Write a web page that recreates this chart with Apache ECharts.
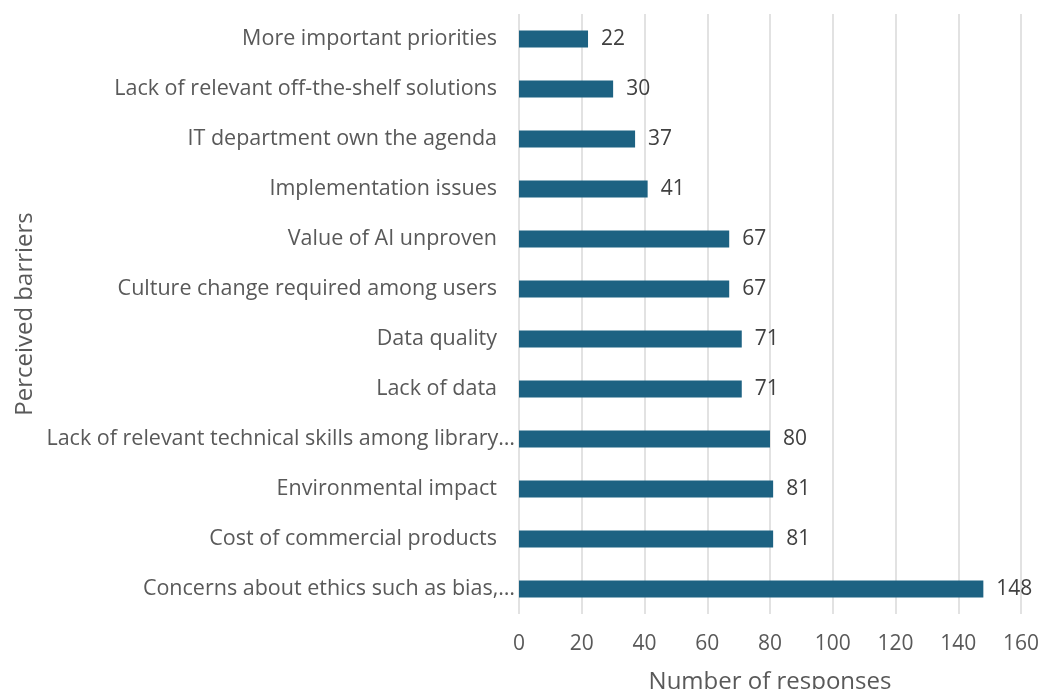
<!DOCTYPE html>
<html><head><meta charset="utf-8">
<script src="https://cdn.jsdelivr.net/npm/echarts@6/dist/echarts.min.js"></script>
<style>html,body{margin:0;padding:0;background:#fff}#c{width:1040px;height:689px}</style>
</head><body><div id="c"></div>
<script>
const categories = [
  "Concerns about ethics such as bias,…",
  "Cost of commercial products",
  "Environmental impact",
  "Lack of relevant technical skills among library…",
  "Lack of data",
  "Data quality",
  "Culture change required among users",
  "Value of AI unproven",
  "Implementation issues",
  "IT department own the agenda",
  "Lack of relevant off-the-shelf solutions",
  "More important priorities"
];
const values = [148, 81, 81, 80, 71, 71, 67, 67, 41, 37, 30, 22];
const truncated = [true, false, false, true, false, false, false, false, false, false, false, false];
const xTicks = [0, 20, 40, 60, 80, 100, 120, 140, 160];

const FONT = "Open Sans";
const chart = echarts.init(document.getElementById('c'));
chart.setOption({
  animation: false,
  grid: { left: 519, right: 19, top: 14, bottom: 75, containLabel: false, outerBoundsMode: 'none' },
  xAxis: {
    type: 'value', min: xTicks[0], max: xTicks[xTicks.length-1], interval: 20,
    name: 'Number of responses', nameLocation: 'middle', nameGap: 56,
    nameTextStyle: { fontFamily: FONT, fontSize: 24, color: '#595959' },
    axisLine: { show: false }, axisTick: { show: false },
    axisLabel: { fontFamily: FONT, fontSize: 21, color: '#595959', margin: 20 },
    splitLine: { show: true, lineStyle: { color: '#d9d9d9', width: 1.5 } }
  },
  yAxis: {
    type: 'category',
    data: categories.map((c, i) => truncated[i] ? { value: c } : { value: c, textStyle: { padding: [0, 18, 0, 0] } }),
    name: 'Perceived barriers', nameLocation: 'middle', nameGap: 482, nameRotate: 90,
    nameTextStyle: { fontFamily: FONT, fontSize: 24, color: '#595959' },
    axisLine: { show: false }, axisTick: { show: false },
    axisLabel: { fontFamily: FONT, fontSize: 21.5, color: '#595959', margin: 4 }
  },
  series: [{
    type: 'bar', data: values, barWidth: 17,
    itemStyle: { color: '#1d6282' },
    label: { show: true, position: 'right', distance: 13, fontFamily: FONT, fontSize: 21, color: '#404040' }
  }]
});
</script></body></html>
